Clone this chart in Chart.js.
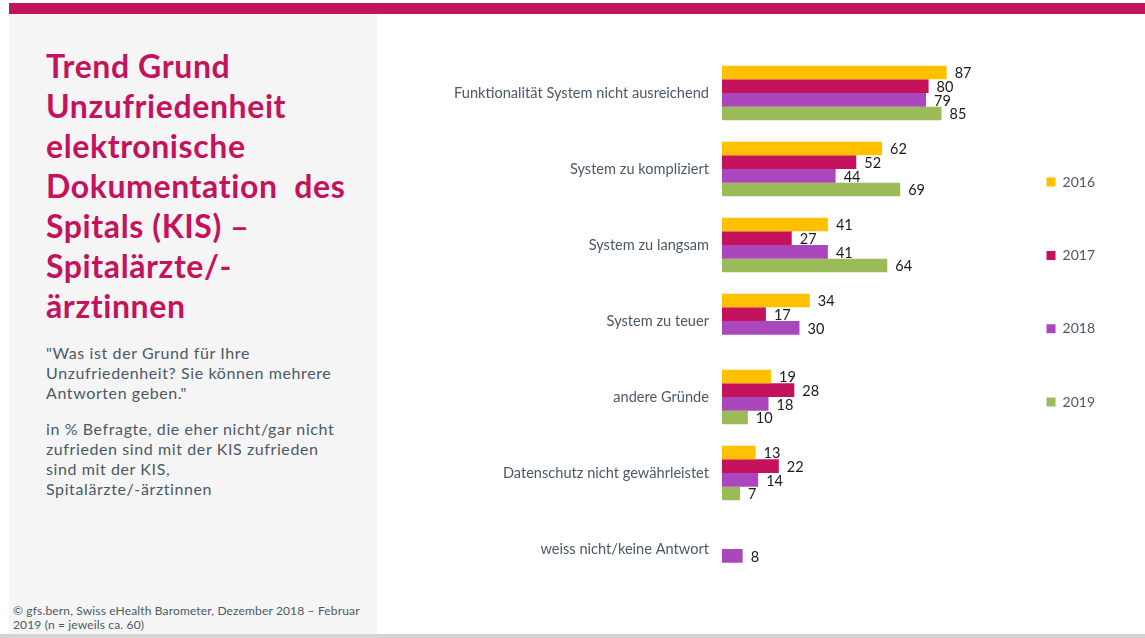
<!DOCTYPE html>
<html>
<head>
<meta charset="utf-8">
<script src="https://cdn.jsdelivr.net/npm/chart.js@4.4.0/dist/chart.umd.min.js"></script>
<style>
  html, body { margin: 0; padding: 0; background: #fff; }
  body { width: 1145px; height: 638px; position: relative; overflow: hidden; font-family: Lato, "Noto Sans", sans-serif; }
  .topbar { position: absolute; left: 9px; top: 3px; width: 1136px; height: 11px; background: #c4135c; }
  .panel { position: absolute; left: 9px; top: 14px; width: 368px; height: 620px; background: #f5f5f5; }
  .bottomline { position: absolute; left: 0; top: 634px; width: 1145px; height: 4px; background: #d4d4d4; }
  .title { position: absolute; left: 46px; top: 46px; font-size: 32px; line-height: 40px; font-weight: bold; color: #c4135c; white-space: nowrap; letter-spacing: 0.6px; }
  .note { position: absolute; left: 46px; font-size: 16px; line-height: 20px; color: #4b5966; white-space: nowrap; letter-spacing: 0.6px; }
  .footer { position: absolute; left: 13px; top: 604px; font-size: 12px; line-height: 14px; color: #4b5966; white-space: nowrap; letter-spacing: 0.15px; }
  .chart-box { position: absolute; left: 380px; top: 14px; width: 765px; height: 621px; }
</style>
</head>
<body>
<div class="topbar"></div>
<div class="panel"></div>
<div class="bottomline"></div>
<div class="title">Trend Grund<br>Unzufriedenheit<br>elektronische<br>Dokumentation&nbsp; des<br>Spitals (KIS) –<br>Spitalärzte/-<br>ärztinnen</div>
<div class="note" style="top:343px">"Was ist der Grund für Ihre<br>Unzufriedenheit? Sie können mehrere<br>Antworten geben."</div>
<div class="note" style="top:419px">in % Befragte, die eher nicht/gar nicht<br>zufrieden sind mit der KIS zufrieden<br>sind mit der KIS,<br>Spitalärzte/-ärztinnen</div>
<div class="footer">© gfs.bern, Swiss eHealth Barometer, Dezember 2018 – Februar<br>2019 (n = jeweils ca. 60)</div>
<div class="chart-box"><canvas id="myChart"></canvas></div>

<script>
// data
const categories = [
  'Funktionalität System nicht ausreichend',
  'System zu kompliziert',
  'System zu langsam',
  'System zu teuer',
  'andere Gründe',
  'Datenschutz nicht gewährleistet',
  'weiss nicht/keine Antwort'
];
const years = ['2016', '2017', '2018', '2019'];
const values2016 = [87, 62, 41, 34, 19, 13, null];
const values2017 = [80, 52, 27, 17, 28, 22, null];
const values2018 = [79, 44, 41, 30, 18, 14, 8];
const values2019 = [85, 69, 64, null, 10, 7, null];
const colors = ['#ffc000', '#c4135c', '#ab47bc', '#9bbb59'];

const labelColor = '#4b5966';

// values next to the bars
const valueLabels = {
  id: 'valueLabels',
  afterDatasetsDraw(chart){
    const ctx = chart.ctx;
    ctx.save();
    ctx.font = '14.5px Lato, "Noto Sans", sans-serif';
    ctx.fillStyle = '#1a1a1a';
    ctx.textAlign = 'left';
    ctx.textBaseline = 'middle';
    chart.data.datasets.forEach(function(ds, i){
      let meta = chart.getDatasetMeta(i);
      meta.data.forEach(function(bar, j){
        let v = ds.data[j];
        if(v === null) return;
        ctx.fillText(v, bar.x + 8, bar.y + 1);
      });
    });
    ctx.restore();
  }
};

const ctx = document.getElementById('myChart');
const all_values = [values2016, values2017, values2018, values2019];

new Chart(ctx, {
  type: 'bar',
  data: {
    labels: categories,
    datasets: years.map(function(y, i){
      return {
        label: y,
        data: all_values[i],
        backgroundColor: colors[i],
        borderWidth: 0,
        categoryPercentage: 0.72,
        barPercentage: 1
      };
    })
  },
  options: {
    indexAxis: 'y',
    responsive: true,
    maintainAspectRatio: false,
    animation: false,
    layout: {
      padding: { top: 41, bottom: 48, left: 0, right: 40 }
    },
    plugins: {
      tooltip: { enabled: false },
      legend: {
        position: 'right',
        align: 'start',
        title: {
          display: true,
          text: '',
          font: { size: 14 },
          padding: { top: 0, bottom: 44 }
        },
        labels: {
          boxWidth: 9,
          boxHeight: 9,
          padding: 59.3,
          color: labelColor,
          font: { size: 14, family: 'Lato, "Noto Sans", sans-serif' }
        }
      }
    },
    scales: {
      x: {
        display: false,
        min: 0,
        max: 102.7
      },
      y: {
        grid: { display: false, drawTicks: false },
        border: { display: false },
        ticks: {
          padding: 13,
          color: labelColor,
          font: { size: 14.6, family: 'Lato, "Noto Sans", sans-serif' }
        },
        afterFit: function(scale){
          scale.width = 342;
        }
      }
    }
  },
  plugins: [valueLabels]
});
</script>
</body>
</html>
